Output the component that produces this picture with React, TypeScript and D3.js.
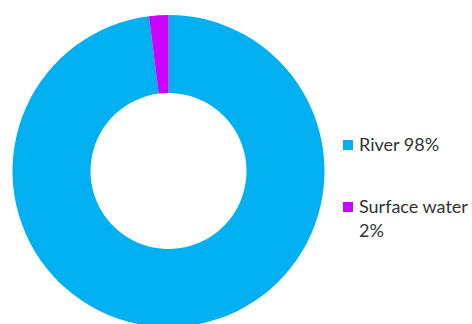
import React from "react";
import * as d3 from "d3";

const categories = ["River", "Surface water"];
const values = [98, 2];
const colors = ["#00B0F0", "#CC00FF"];
const legendLines = [["River 98%"], ["Surface water", "2%"]];

export default function App() {
  const width = 472;
  const height = 324;
  const cx = 168.5;
  const cy = 171;
  const outerR = 156;
  const innerR = 78;
  const pie = d3.pie<number>().sort(null).value((d) => d);
  const arcs = pie(values);
  const arcGen = d3.arc<d3.PieArcDatum<number>>().innerRadius(innerR).outerRadius(outerR);
  const legendY = [151, 213];
  return (
    <svg width={width} height={height} style={{ position: "absolute", left: 0, top: 0, background: "#fff" }}>
      <g transform={`translate(${cx},${cy})`}>
        {arcs.map((a, i) => (
          <path key={categories[i]} d={arcGen(a) || ""} fill={colors[i]} />
        ))}
      </g>
      {legendLines.map((lines, i) => (
        <g key={categories[i]}>
          <rect x={343} y={legendY[i] - 11} width={10} height={10} fill={colors[i]} />
          <text x={359} y={legendY[i]} fontFamily="Lato, 'Open Sans', sans-serif" fontSize={18} fill="#333333">
            {lines.map((l, j) => (
              <tspan key={j} x={359} dy={j === 0 ? 0 : 24}>{l}</tspan>
            ))}
          </text>
        </g>
      ))}
    </svg>
  );
}
